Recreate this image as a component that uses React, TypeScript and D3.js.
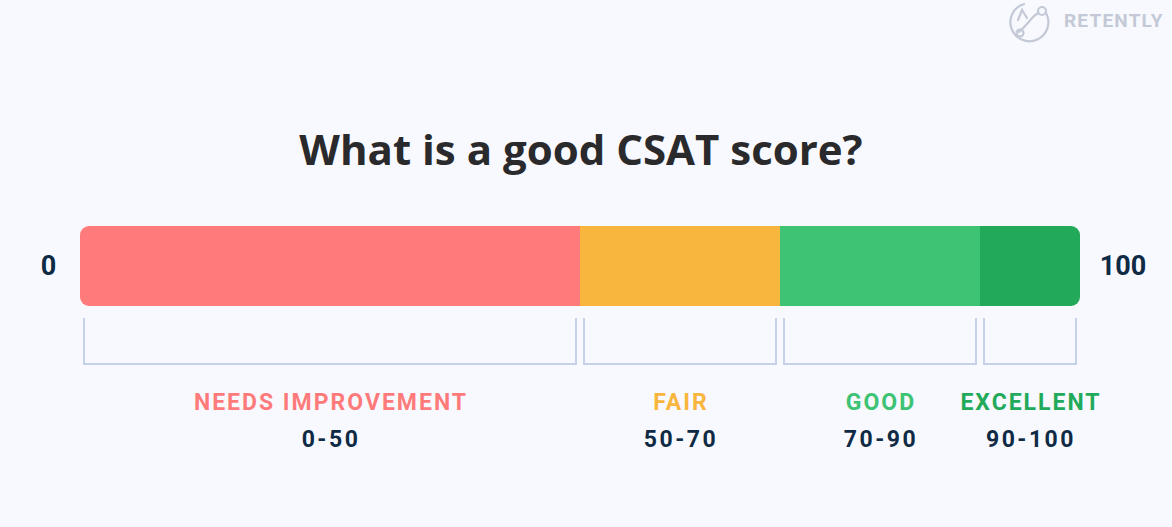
import React from "react";
import * as d3 from "d3";

const segNames = ["NEEDS IMPROVEMENT", "FAIR", "GOOD", "EXCELLENT"];
const segStarts = [0, 50, 70, 90];
const segEnds = [50, 70, 90, 100];
const segRanges = ["0-50", "50-70", "70-90", "90-100"];
const segColors = ["#ff7b7b", "#f8b63e", "#3dc373", "#22aa5a"];
const labelColors = ["#ff7b7b", "#f8b63e", "#3dc373", "#22aa5a"];
const scaleEnds = ["0", "100"];

const W = 1172, H = 527;

export default function App() {
  const x = d3.scaleLinear().domain([0, 100]).range([80, 1080]);
  const barTop = 226, barH = 80, r = 9;
  const clipId = "barclip";
  const labelFont = "'Roboto', 'DejaVu Sans', sans-serif";
  return (
    <svg width={W} height={H} style={{ position: "absolute", left: 0, top: 0 }}>
      <rect width={W} height={H} fill="#f8f9fe" />
      {/* logo */}
      <g transform="translate(1030,22)" fill="none" stroke="#c3c9d6" strokeWidth={2.2} strokeLinecap="round">
        <path d="M-6,-18 A19,19 0 1 0 16,-9" />
        <path d="M-11,10 C-4,4 0,-2 4,-6 L8,-9" />
        <circle cx={-10} cy={11} r={3.5} />
        <circle cx={12} cy={-11} r={4} />
        <path d="M-12,-2 L-8,-12 L-3,-4" />
      </g>
      <text x={1064} y={27} fill="#c3c9d6" fontFamily={labelFont} fontWeight={700} fontSize={19} letterSpacing={1.2}>RETENTLY</text>
      {/* title */}
      <text x={581} y={165} textAnchor="middle" fill="#2a2a2c" fontFamily="'Open Sans', 'Noto Sans', sans-serif" fontWeight={700} fontSize={42}>What is a good CSAT score?</text>
      <defs>
        <clipPath id={clipId}>
          <rect x={x(0)} y={barTop} width={x(100) - x(0)} height={barH} rx={r} ry={r} />
        </clipPath>
      </defs>
      <g clipPath={`url(#${clipId})`}>
        {segStarts.map((s, i) => (
          <rect key={i} x={x(s)} y={barTop} width={x(segEnds[i]) - x(s)} height={barH} fill={segColors[i]} />
        ))}
      </g>
      <text x={48.5} y={275} textAnchor="middle" fill="#0f2a44" fontFamily={labelFont} fontWeight={700} fontSize={27}>{scaleEnds[0]}</text>
      <text x={1123} y={275} textAnchor="middle" fill="#0f2a44" fontFamily={labelFont} fontWeight={700} fontSize={27}>{scaleEnds[1]}</text>
      {segStarts.map((s, i) => {
        const x0 = x(s) + 4, x1 = x(segEnds[i]) - 4;
        const cx = (x(s) + x(segEnds[i])) / 2;
        return (
          <g key={i}>
            <path d={`M${x0},318 V364 H${x1} V318`} fill="none" stroke="#c5d1e8" strokeWidth={2} />
            <text x={cx + 1} y={410} textAnchor="middle" fill={labelColors[i]} fontFamily={labelFont} fontWeight={700} fontSize={23} letterSpacing={2}>{segNames[i]}</text>
            <text x={cx + 1} y={447} textAnchor="middle" fill="#0f2a44" fontFamily={labelFont} fontWeight={700} fontSize={23} letterSpacing={2.5}>{segRanges[i]}</text>
          </g>
        );
      })}
    </svg>
  );
}
